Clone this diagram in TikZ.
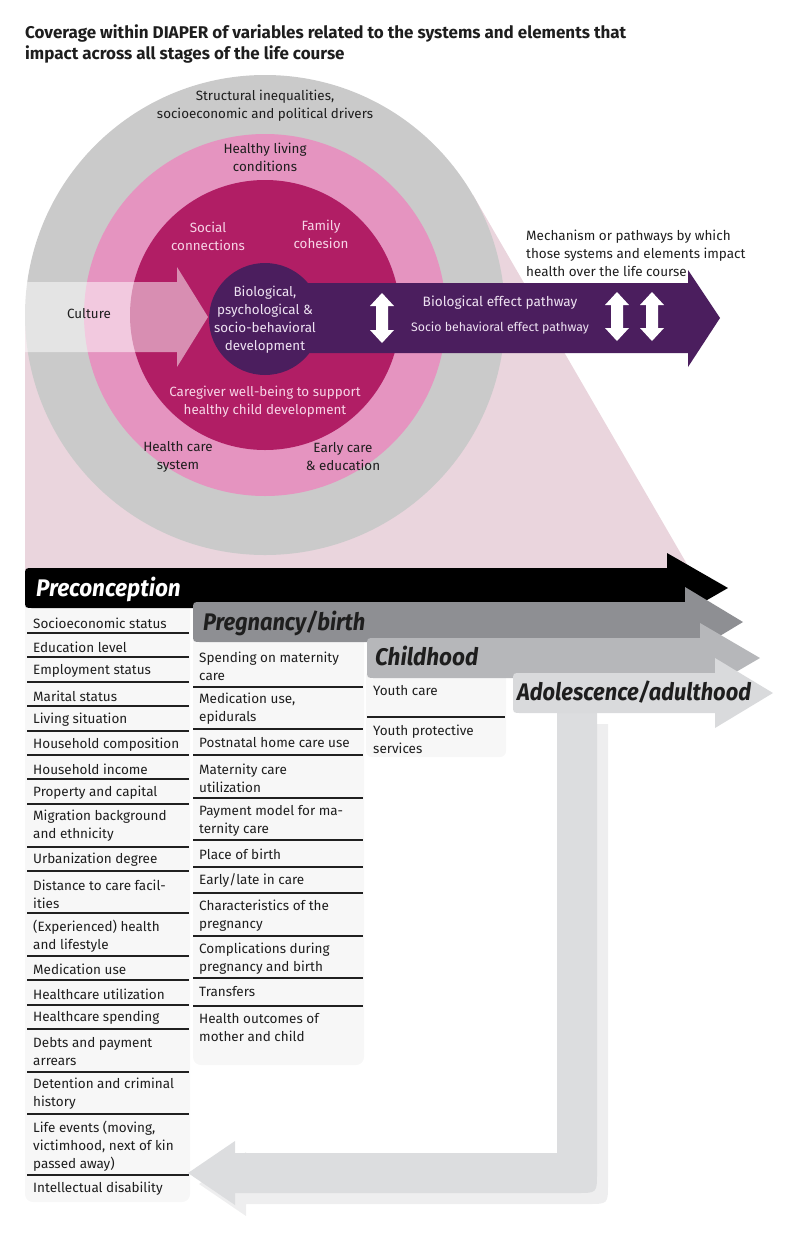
\documentclass[tikz,border=0pt]{standalone}
\usepackage{fontspec}
\usepackage{graphicx}
\setmainfont{Fira Sans}
\definecolor{greyring}{HTML}{CACACA}
\definecolor{pinkring}{HTML}{E594C0}
\definecolor{magring}{HTML}{B11E65}
\definecolor{purp}{HTML}{4B1E5E}
\definecolor{pinkbg}{HTML}{EAD5DD}
\definecolor{colbg}{HTML}{F7F7F7}
\definecolor{txt}{HTML}{1E1E1E}
\definecolor{ltmag}{HTML}{F7D4E6}
\definecolor{ltpur}{HTML}{EEE2F2}
\definecolor{stageA}{HTML}{000000}
\definecolor{stageB}{HTML}{8E8F93}
\definecolor{stageC}{HTML}{B6B7BA}
\definecolor{stageD}{HTML}{D9DADC}
\definecolor{retmain}{HTML}{DCDDDF}
\definecolor{retshadow}{HTML}{EEEEEF}
\definecolor{sepc}{HTML}{202020}
\tikzset{
  lbl/.style={inner sep=0pt, align=center, font=\fontsize{13.4}{18}\selectfont, text=txt},
  lbllt/.style={lbl, text=ltmag},
  item/.style={inner sep=0pt, anchor=west, align=left, font=\fontsize{13.5}{18}\selectfont, text=txt},
  sepline/.style={draw=sepc, line width=1.4pt},
  stagetxt/.style={inner sep=0pt, anchor=base west, font=\bfseries\itshape\fontsize{24}{26}\selectfont},
  dbl/.style={fill=white}
}
\begin{document}
\begin{tikzpicture}[x=1pt,y=-1pt]
\useasboundingbox (0,0) rectangle (800,1235);
% title
\node[inner sep=0pt, anchor=west, align=left, font=\bfseries\fontsize{17}{21}\selectfont, text=txt] (title) at (25,44)
 {Coverage within DIAPER of variables related to the systems and elements that\\impact across all stages of the life course};
% pink background
\fill[pinkbg] (25,315) -- (25,578) -- (695,578) -- (473,195) -- (265,315) -- cycle;
% rings
\fill[greyring] (265,315) circle[radius=240];
\fill[pinkring] (265,315) circle[radius=181];
\fill[magring] (265,315) circle[radius=135];
% purple pathway arrow
\fill[purp] (265,283) -- (688,283) -- (688,270) -- (720,318) -- (688,367) -- (688,353) -- (265,353) -- cycle;
% culture arrow
\fill[white, opacity=0.5] (25,282) -- (177,282) -- (177,267) -- (208,317) -- (177,367) -- (177,352) -- (25,352) -- cycle;
\fill[purp] (265,319) circle[radius=56];
% double arrows
\fill[dbl] (382,293) -- (394,306) -- (388,306) -- (388,330) -- (394,330) -- (382,343) -- (370,330) -- (376,330) -- (376,306) -- (370,306) -- cycle;
\fill[dbl] (617,292) -- (629,305) -- (623,305) -- (623,328) -- (629,328) -- (617,341) -- (605,328) -- (611,328) -- (611,305) -- (605,305) -- cycle;
\fill[dbl] (652,292) -- (664,305) -- (658,305) -- (658,328) -- (664,328) -- (652,341) -- (640,328) -- (646,328) -- (646,305) -- (640,305) -- cycle;
% ring labels
\node[lbl] (struct) at (265,106) {Structural inequalities,\\socioeconomic and political drivers};
\node[lbl] (healthy) at (265,157) {Healthy living\\conditions};
\node[lbllt] (social) at (208,236) {Social\\connections};
\node[lbllt] (family) at (321,234) {Family\\cohesion};
\node[lbl, text=ltpur] (bio) at (265,320) {Biological,\\psychological \&\\socio-behavioral\\development};
\node[lbl] (culture) at (89,314) {Culture};
\node[lbllt] (caregiver) at (265,402) {Caregiver well-being to support\\healthy child development};
\node[lbl] (hcs) at (178,457) {Health care\\system};
\node[lbl] (early) at (343,457) {Early care\\\& education};
\node[lbl, text=ltpur, font=\fontsize{13.6}{16}\selectfont] (biopath) at (500,303) {Biological effect pathway};
\node[lbl, text=ltpur, font=\fontsize{12.3}{16}\selectfont] (sociopath) at (500,328) {Socio behavioral effect pathway};
\node[item] (mech) at (526,253) {Mechanism or pathways by which\\those systems and elements impact\\health over the life course};
% column backgrounds
\fill[colbg, rounded corners=8] (25,600) rectangle (190,1202);
\fill[colbg, rounded corners=8] (193,635) rectangle (364,1065);
\fill[colbg, rounded corners=6] (366,670) rectangle (506,757);
% return arrow
\fill[retshadow, shift={(11,11)}] (557,713) -- (597,713) -- (597,1173) .. controls (597,1193) .. (577,1193) -- (235,1193) -- (235,1205) -- (188,1173) -- (235,1141) -- (235,1153) -- (557,1153) -- cycle;
\fill[retmain] (557,713) -- (597,713) -- (597,1173) .. controls (597,1193) .. (577,1193) -- (235,1193) -- (235,1205) -- (188,1173) -- (235,1141) -- (235,1153) -- (557,1153) -- cycle;
% stage arrows
\fill[stageA] (33,568) -- (667,568) -- (667,553) -- (728,588) -- (667,623) -- (667,608) -- (33,608) .. controls (25,608) .. (25,600) -- (25,576) .. controls (25,568) .. (33,568) -- cycle;
\fill[stageB] (201,602) -- (685,602) -- (685,587) -- (743,622) -- (685,657) -- (685,642) -- (201,642) .. controls (193,642) .. (193,634) -- (193,610) .. controls (193,602) .. (201,602) -- cycle;
\fill[stageC] (375,638) -- (700,638) -- (700,623) -- (760,658) -- (700,693) -- (700,678) -- (375,678) .. controls (367,678) .. (367,670) -- (367,646) .. controls (367,638) .. (375,638) -- cycle;
\fill[stageD] (521,673) -- (715,673) -- (715,658) -- (773,693) -- (715,728) -- (715,713) -- (521,713) .. controls (513,713) .. (513,705) -- (513,681) .. controls (513,673) .. (521,673) -- cycle;
\node[stagetxt, text=white] (sA) at (36,596) {\scalebox{0.94}[1]{Preconception}};
\node[stagetxt, text=txt] (sB) at (203,630) {\scalebox{0.91}[1]{Pregnancy/birth}};
\node[stagetxt, text=txt] (sC) at (375,665) {\scalebox{0.94}[1]{Childhood}};
\node[stagetxt, text=txt] (sD) at (517,700) {\scalebox{0.91}[1]{Adolescence/adulthood}};
% column separators
\foreach \yy in {633,657,682,706,731,755,779,804,847,871,913,956,980,1005,1029,1072,1114,1175}
  \draw[sepline] (27,\yy) -- (189,\yy);
\foreach \yy in {687,729,755,798,840,867,893,936,978,1006}
  \draw[sepline] (193,\yy) -- (363,\yy);
\draw[sepline] (367,717) -- (505,717);
% preconception items
\node[item] (p1) at (33,623) {Socioeconomic status};
\node[item] (p2) at (33,647) {Education level};
\node[item] (p3) at (33,671) {Employment status};
\node[item] (p4) at (33,696) {Marital status};
\node[item] (p5) at (33,720) {Living situation};
\node[item] (p6) at (33,745) {Household composition};
\node[item] (p7) at (33,769) {Household income};
\node[item] (p8) at (33,793) {Property and capital};
\node[item] (p9) at (33,826) {Migration background\\and ethnicity};
\node[item] (p10) at (33,860) {Urbanization degree};
\node[item] (p11) at (33,894) {Distance to care facil-\\ities};
\node[item] (p12) at (33,936) {(Experienced) health\\and lifestyle};
\node[item] (p13) at (33,969) {Medication use};
\node[item] (p14) at (33,994) {Healthcare utilization};
\node[item] (p15) at (33,1018) {Healthcare spending};
\node[item] (p16) at (33,1052) {Debts and payment\\arrears};
\node[item] (p17) at (33,1094) {Detention and criminal\\history};
\node[item] (p18) at (33,1146) {Life events (moving,\\victimhood, next of kin\\passed away)};
\node[item] (p19) at (33,1189) {Intellectual disability};
% pregnancy items
\node[item] (q1) at (199,666) {Spending on maternity\\care};
\node[item] (q2) at (199,709) {Medication use,\\epidurals};
\node[item] (q3) at (199,743) {Postnatal home care use};
\node[item] (q4) at (199,778) {Maternity care\\utilization};
\node[item] (q5) at (199,821) {Payment model for ma-\\ternity care};
\node[item] (q6) at (199,854) {Place of birth};
\node[item] (q7) at (199,880) {Early/late in care};
\node[item] (q8) at (199,916) {Characteristics of the\\pregnancy};
\node[item] (q9) at (199,959) {Complications during\\pregnancy and birth};
\node[item] (q10) at (199,992) {Transfers};
\node[item] (q11) at (199,1028) {Health outcomes of\\mother and child};
% childhood items
\node[item] (r1) at (373,691) {Youth care};
\node[item] (r2) at (373,739) {Youth protective\\services};
\end{tikzpicture}
\end{document}
